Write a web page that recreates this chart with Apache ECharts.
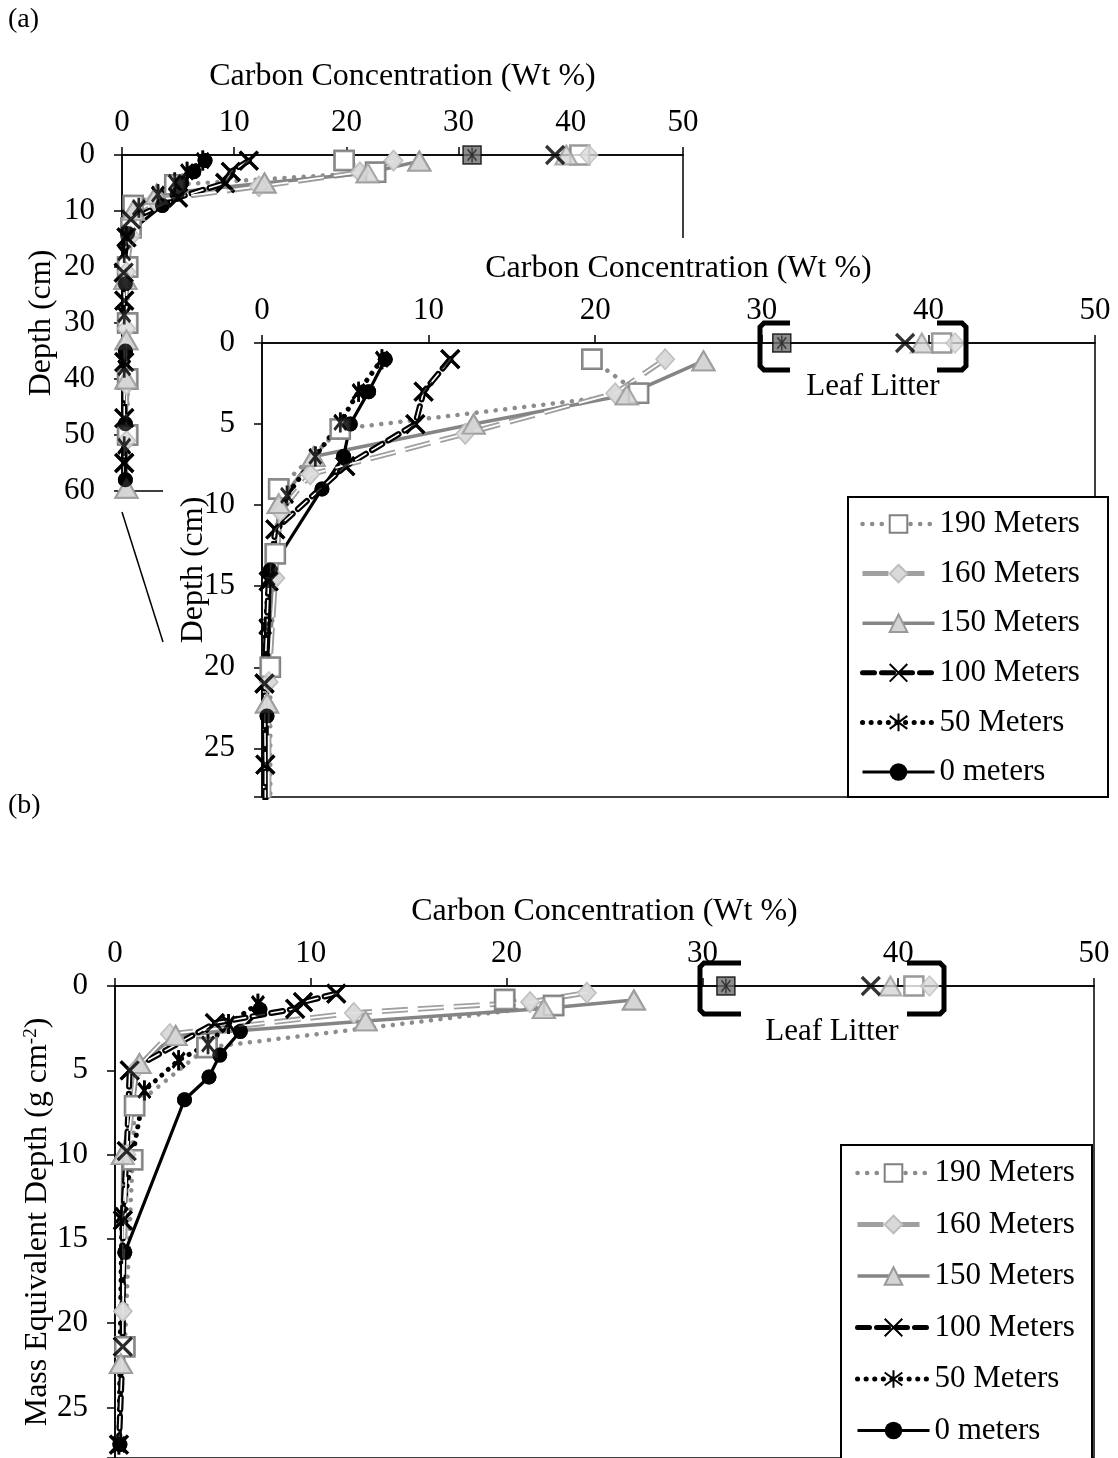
<!DOCTYPE html>
<html><head><meta charset="utf-8">
<script src="https://cdn.jsdelivr.net/npm/echarts@6/dist/echarts.min.js"></script>
<style>html,body{margin:0;padding:0;background:#fff}#c{width:1118px;height:1458px}</style>
</head><body><div id="c"></div>
<script>
// ---------- DATA ----------
const seriesNames = ['190 Meters', '160 Meters', '150 Meters', '100 Meters', '50 Meters', '0 meters'];
const xTicks = [0, 10, 20, 30, 40, 50];

// Panel (a): carbon concentration (wt %) vs depth (cm)
const a190C = [19.8, 22.6, 4.7, 1.0, 0.8, 0.5, 0.5, 0.5, 0.5];
const a190D = [1, 3.1, 5.3, 9, 13, 20, 30, 40, 50];
const a160C = [24.2, 21.2, 12.2, 2.9, 1.1, 0.8, 0.4, 0.4, 0.4, 0.4];
const a160D = [1, 3.1, 5.6, 8.1, 10.4, 14.5, 20.9, 31, 41, 51];
const a150C = [26.5, 21.9, 12.7, 3.1, 1.0, 0.3, 0.4, 0.4, 0.4];
const a150D = [1.1, 3.2, 5.0, 7.0, 9.9, 22.2, 33, 40, 59.5];
const a100C = [11.3, 9.7, 9.2, 5.0, 0.8, 0.4, 0.15, 0.2, 0.2, 0.2, 0.2];
const a100D = [1, 3, 5, 7.6, 11.5, 14.7, 21, 26, 37, 47, 55];
const a50C = [7.2, 5.8, 4.7, 3.2, 1.5, 0.4, 0.2, 0.2, 0.2, 0.2];
const a50D = [1, 3, 4.9, 7, 9.4, 14.5, 17.5, 28.5, 38, 52];
const a0C = [7.4, 6.4, 5.3, 4.9, 3.6, 0.5, 0.3, 0.3, 0.3, 0.3];
const a0D = [1, 3, 5, 7, 9, 14, 23, 35, 48, 58];

// Panel (b): carbon concentration (wt %) vs mass equivalent depth (g cm-2)
const b190C = [19.9, 22.4, 4.7, 1.0, 0.9, 0.5];
const b190D = [0.8, 1.15, 3.65, 7.1, 10.3, 21.4];
const b160C = [24.1, 21.2, 12.2, 2.8, 1.1, 0.6, 0.4];
const b160D = [0.4, 0.95, 1.6, 2.85, 4.9, 10.0, 19.3];
const b150C = [26.5, 21.9, 12.8, 3.1, 1.25, 0.4, 0.3];
const b150D = [0.83, 1.34, 2.07, 2.94, 4.6, 10.0, 22.4];
const b100C = [11.3, 9.6, 9.2, 5.1, 0.75, 0.6, 0.4, 0.4, 0.2];
const b100D = [0.45, 0.95, 1.35, 2.2, 5.0, 9.8, 13.9, 21.4, 27.2];
const b50C = [7.3, 5.8, 4.75, 3.25, 1.5, 0.35, 0.2];
const b50D = [1.05, 2.25, 3.45, 4.4, 6.2, 13.6, 27.2];
const b0C = [7.4, 6.4, 5.35, 4.8, 3.55, 0.5, 0.25];
const b0D = [1.4, 2.7, 4.1, 5.4, 6.75, 15.8, 27.2];

// Leaf litter (plotted at depth 0): 190, 160, 150, 100, 50 m
const litterC = [40.8, 41.6, 39.6, 38.6, 31.2];

// ---------- STYLES ----------
const FONT = '"Liberation Serif", "Times New Roman", serif';
const X_PATH = 'path://M-1,-1L1,1M-1,1L1,-1';
const AST_PATH = 'path://M-1,-1L1,1M-1,1L1,-1M0,-1.35L0,1.35';
const ST = [
  { symbol: 'rect', size: 19, line: { color: '#8c8c8c', width: 4.5, type: [0.1, 9.5], cap: 'round' },
    item: { color: '#ffffff', borderColor: '#808080', borderWidth: 2.5 } },
  { symbol: 'diamond', size: [18, 20], line: { color: '#a0a0a0', width: 5.5, type: [26, 10] },
    inner: { color: '#ffffff', width: 1.8, type: [26, 10] },
    item: { color: '#d9d9d9', borderColor: '#bdbdbd', borderWidth: 1.5 } },
  { symbol: 'triangle', size: [22, 19], line: { color: '#858585', width: 3.5 },
    item: { color: '#d4d4d4', borderColor: '#9a9a9a', borderWidth: 2 } },
  { symbol: X_PATH, size: 18, line: { color: '#000', width: 6, type: [12, 7], cap: 'round' },
    inner: { color: '#ffffff', width: 1.6, type: [12, 7], cap: 'round' },
    item: { color: 'rgba(0,0,0,0)', borderColor: '#000', borderWidth: 3.2 } },
  { symbol: AST_PATH, size: [16, 20], line: { color: '#000', width: 5, type: [0.1, 8.5], cap: 'round' },
    item: { color: 'rgba(0,0,0,0)', borderColor: '#000', borderWidth: 3 } },
  { symbol: 'circle', size: 15, line: { color: '#000', width: 3.2 },
    item: { color: '#000', borderColor: '#000', borderWidth: 0 } }
];

const pts = (xs, ys) => xs.map((v, i) => [v, ys[i]]);

const panelA = [pts(a190C, a190D), pts(a160C, a160D), pts(a150C, a150D), pts(a100C, a100D), pts(a50C, a50D), pts(a0C, a0D)];
const panelB = [pts(b190C, b190D), pts(b160C, b160D), pts(b150C, b150D), pts(b100C, b100D), pts(b50C, b50D), pts(b0C, b0D)];

function buildSeries(datasets, ax, zBase) {
  const out = [];
  datasets.forEach((d, i) => {
    const s = ST[i];
    out.push({ type: 'line', name: seriesNames[i], data: d, xAxisIndex: ax, yAxisIndex: ax,
      symbol: s.symbol, symbolSize: s.size, symbolKeepAspect: true, showSymbol: true,
      lineStyle: s.line, itemStyle: s.item, z: zBase, animation: false, silent: true, clip: true });
    if (s.inner) {
      out.push({ type: 'line', name: seriesNames[i] + ' inner', data: d, xAxisIndex: ax, yAxisIndex: ax,
        showSymbol: false, symbol: 'none', lineStyle: s.inner, z: zBase + 1, animation: false, silent: true, clip: true });
    }
  });
  datasets.forEach((d, i) => {
    const s = ST[i];
    out.push({ type: 'scatter', name: seriesNames[i] + ' marks', data: d, xAxisIndex: ax, yAxisIndex: ax,
      symbol: s.symbol, symbolSize: s.size, symbolKeepAspect: true, itemStyle: s.item,
      z: zBase + 2, animation: false, silent: true, clip: true });
  });
  // leaf litter markers
  out.push({ type: 'scatter', name: 'litter base', data: [[litterC[4], 0]], xAxisIndex: ax, yAxisIndex: ax,
    symbol: 'rect', symbolSize: 18, itemStyle: { color: '#6e6e6e', borderColor: '#000', borderWidth: 1.5 },
    z: zBase + 2, animation: false, silent: true, clip: false });
  litterC.forEach((c, i) => {
    const s = ST[i];
    out.push({ type: 'scatter', name: seriesNames[i] + ' litter', data: [[c, 0]], xAxisIndex: ax, yAxisIndex: ax,
      symbol: s.symbol, symbolSize: i === 4 ? [12, 15] : s.size, symbolKeepAspect: true,
      itemStyle: i === 4 ? { color: 'rgba(0,0,0,0)', borderColor: '#222', borderWidth: 1.5 } : s.item,
      z: zBase + 3, animation: false, silent: true, clip: false });
  });
  return out;
}

function xAxisCfg(gi, nameGap, z) {
  return { gridIndex: gi, type: 'value', position: 'top', min: 0, max: 50, interval: 10, z,
    name: 'Carbon Concentration (Wt %)', nameLocation: 'middle', nameGap, nameMoveOverlap: false,
    nameTextStyle: { fontFamily: FONT, fontSize: 32, color: '#000' },
    axisLine: { onZero: false, lineStyle: { color: '#000', width: 1.5 } },
    axisTick: { show: true, length: 8, lineStyle: { color: '#000', width: 1.5 } },
    axisLabel: { fontFamily: FONT, fontSize: 31, color: '#000', margin: 17,
      formatter: v => (xTicks.indexOf(v) >= 0 ? String(v) : '') },
    splitLine: { show: false } };
}
function yAxisCfg(gi, max, interval, name, nameGap, z, rich) {
  const nts = { fontFamily: FONT, fontSize: 32, color: '#000' };
  if (rich) nts.rich = rich;
  return { gridIndex: gi, type: 'value', inverse: true, min: 0, max, interval, z,
    name, nameLocation: 'middle', nameGap, nameRotate: 90, nameMoveOverlap: false, nameTextStyle: nts,
    axisLine: { onZero: false, lineStyle: { color: '#000', width: 1.5 } },
    axisTick: { show: true, length: 8, lineStyle: { color: '#000', width: 1.5 } },
    axisLabel: { fontFamily: FONT, fontSize: 31, color: '#000', margin: 27,
      formatter: v => (v % interval === 0 ? String(v) : '') },
    splitLine: { show: false } };
}

const chart = echarts.init(document.getElementById('c'), null, { renderer: 'canvas', width: 1118, height: 1458 });

const supRich = {
  n: { fontFamily: FONT, fontSize: 32, color: '#000' },
  s: { fontFamily: FONT, fontSize: 19, color: '#000', verticalAlign: 'top', padding: [0, 0, 12, 0] }
};

const bracketL = (x1, x0, y0, y1) => [[x1, y0], [x0 + 4, y0], [x0, y0 + 4], [x0, y1 - 4], [x0 + 4, y1], [x1, y1]];
const bracketR = (x1, x0, y0, y1) => [[x1, y0], [x0 - 4, y0], [x0, y0 + 4], [x0, y1 - 4], [x0 - 4, y1], [x1, y1]];

const legendData = seriesNames.map((n, i) => ({
  name: n,
  lineStyle: { width: Math.min(ST[i].line.width, 5), color: ST[i].line.color, type: ST[i].line.type || 'solid', cap: ST[i].line.cap || 'butt' }
}));
function legendCfg(left, top, gap) {
  return { data: legendData, left, top, orient: 'vertical', itemWidth: 72, itemHeight: 22, itemGap: gap,
    padding: 0, selectedMode: false, z: 21,
    textStyle: { fontFamily: FONT, fontSize: 31, color: '#000', lineHeight: 36 } };
}

const option = {
  backgroundColor: '#ffffff',
  animation: false,
  grid: [
    { left: 122, top: 155, width: 561, height: 336, show: true, borderColor: '#000', borderWidth: 1.5, backgroundColor: 'rgba(0,0,0,0)', z: 0 },
    { left: 262, top: 343, width: 833, height: 454, show: true, borderColor: '#000', borderWidth: 1.5, backgroundColor: 'rgba(0,0,0,0)', z: 11 },
    { left: 115, top: 986, width: 979, height: 475, show: true, borderColor: '#000', borderWidth: 1.5, backgroundColor: 'rgba(0,0,0,0)', z: 11 }
  ],
  xAxis: [xAxisCfg(0, 62, 0), xAxisCfg(1, 58, 11), xAxisCfg(2, 58, 11)],
  yAxis: [
    yAxisCfg(0, 60, 10, 'Depth (cm)', 64, 0),
    yAxisCfg(1, 28, 5, 'Depth (cm)', 52, 11),
    yAxisCfg(2, 28, 5, '{n|Mass Equivalent Depth (g cm}{s|-2}{n|)}', 61, 11, supRich)
  ],
  legend: [legendCfg(860, 506, 13.6), legendCfg(855, 1155, 15.5)],
  graphic: [
    { type: 'rect', z: 10, silent: true, shape: { x: 163, y: 238, width: 955, height: 565 }, style: { fill: '#ffffff' } },
    { type: 'line', z: 10, silent: true, shape: { x1: 122, y1: 512, x2: 163, y2: 642 }, style: { stroke: '#000', lineWidth: 1.5 } },
    { type: 'rect', z: 20, silent: true, shape: { x: 848, y: 497, width: 260, height: 300 }, style: { fill: '#ffffff', stroke: '#000', lineWidth: 2 } },
    { type: 'rect', z: 20, silent: true, shape: { x: 841, y: 1145, width: 251, height: 330 }, style: { fill: '#ffffff', stroke: '#000', lineWidth: 2 } },
    { type: 'text', z: 21, silent: true, x: 8, y: 6, style: { text: '(a)', font: '28px ' + FONT, fill: '#000' } },
    { type: 'text', z: 21, silent: true, x: 8, y: 792, style: { text: '(b)', font: '28px ' + FONT, fill: '#000' } },
    { type: 'polyline', z: 21, silent: true, shape: { points: bracketL(790, 760, 323, 370) }, style: { stroke: '#000', lineWidth: 5, fill: null } },
    { type: 'polyline', z: 21, silent: true, shape: { points: bracketR(937, 966, 323, 370) }, style: { stroke: '#000', lineWidth: 5, fill: null } },
    { type: 'text', z: 21, silent: true, x: 873, y: 387, style: { text: 'Leaf Litter', font: '31px ' + FONT, fill: '#000', textAlign: 'center', textVerticalAlign: 'middle' } },
    { type: 'polyline', z: 21, silent: true, shape: { points: bracketL(741, 700, 963, 1014) }, style: { stroke: '#000', lineWidth: 5, fill: null } },
    { type: 'polyline', z: 21, silent: true, shape: { points: bracketR(907, 944, 963, 1014) }, style: { stroke: '#000', lineWidth: 5, fill: null } },
    { type: 'text', z: 21, silent: true, x: 832, y: 1032, style: { text: 'Leaf Litter', font: '31px ' + FONT, fill: '#000', textAlign: 'center', textVerticalAlign: 'middle' } }
  ],
  series: [].concat(buildSeries(panelA, 0, 1), buildSeries(panelA, 1, 12), buildSeries(panelB, 2, 12))
};
chart.setOption(option);
</script>
</body></html>
